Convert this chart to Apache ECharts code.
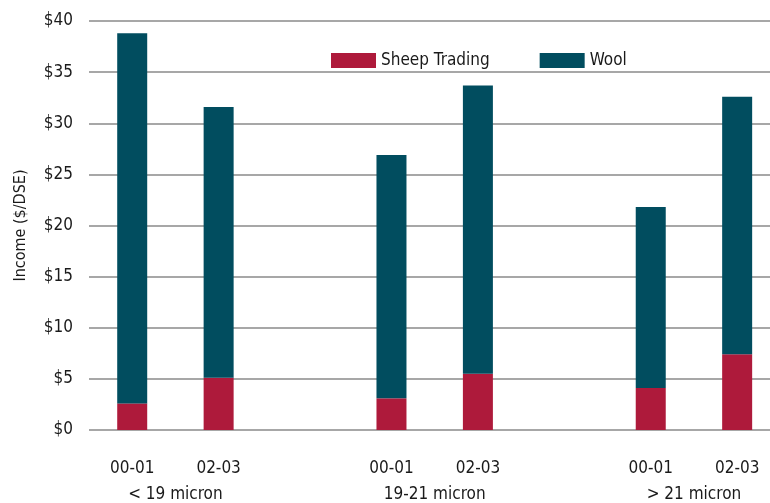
<!DOCTYPE html>
<html>
<head>
<meta charset="utf-8">
<script src="https://cdn.jsdelivr.net/npm/echarts@6/dist/echarts.min.js"></script>
<style>
  html, body { margin: 0; padding: 0; background: #ffffff; }
  #chart { width: 770px; height: 503px; }
</style>
</head>
<body>
<div id="chart"></div>
<script>
// Farm income per DSE by wool micron class and year
const periods = ['00-01', '02-03', '00-01', '02-03', '00-01', '02-03'];
const slots = [0, 1, 3, 4, 6, 7];               // bar slot along the x axis (gaps between groups)
const groups = ['< 19 micron', '19-21 micron', '> 21 micron'];
const groupSlots = [0.5, 3.5, 6.5];
const sheepTrading = [2.6, 5.1, 3.1, 5.5, 4.1, 7.4];
const wool = [36.2, 26.5, 23.8, 28.2, 17.7, 25.2];
const yTicks = [0, 5, 10, 15, 20, 25, 30, 35, 40];

const font = '"DejaVu Sans Condensed", "Liberation Sans Narrow", "DejaVu Sans", sans-serif';
const textColor = '#1a1a1a';
const xMin = -0.5, xMax = 7.38;

// value first so the stack runs along y; encode maps it back
const pairs = vals => slots.map((s, i) => [vals[i], s]);

const chart = echarts.init(document.getElementById('chart'));
chart.setOption({
  backgroundColor: '#ffffff',
  animation: false,
  grid: { left: 89, top: 21, right: 0, height: 409, containLabel: false },
  legend: {
    left: 326, top: 47,
    icon: 'rect',
    itemWidth: 45, itemHeight: 15, itemGap: 50,
    textStyle: { fontFamily: font, fontSize: 17, color: textColor },
    data: ['Sheep Trading', 'Wool']
  },
  xAxis: [
    {
      type: 'value', min: xMin, max: xMax,
      axisLine: { show: false }, axisTick: { show: false }, splitLine: { show: false },
      axisLabel: {
        customValues: slots, margin: 30, fontFamily: font, fontSize: 17, color: textColor,
        formatter: v => periods[slots.indexOf(v)] || ''
      }
    },
    {
      type: 'value', min: xMin, max: xMax, position: 'bottom',
      axisLine: { show: false }, axisTick: { show: false }, splitLine: { show: false },
      axisLabel: {
        customValues: groupSlots, margin: 56, fontFamily: font, fontSize: 17, color: textColor,
        formatter: v => groups[groupSlots.indexOf(v)] || ''
      }
    }
  ],
  yAxis: {
    type: 'value',
    min: yTicks[0], max: yTicks[yTicks.length - 1], interval: 5,
    name: 'Income ($/DSE)',
    nameLocation: 'middle',
    nameGap: 60,
    nameTextStyle: { fontFamily: font, fontSize: 16, color: textColor },
    axisLine: { show: false },
    axisTick: { show: false },
    axisLabel: { margin: 16, fontFamily: font, fontSize: 17, color: textColor, formatter: v => '$' + v },
    splitLine: { lineStyle: { color: '#8a8a8a', width: 1.5 } }
  },
  series: [
    {
      name: 'Sheep Trading', type: 'bar', stack: 'income', barWidth: 30,
      encode: { x: 1, y: 0 },
      itemStyle: { color: '#AE1A3B' },
      data: pairs(sheepTrading)
    },
    {
      name: 'Wool', type: 'bar', stack: 'income', barWidth: 30,
      encode: { x: 1, y: 0 },
      itemStyle: { color: '#014D5F' },
      data: pairs(wool)
    }
  ]
});
</script>
</body>
</html>
